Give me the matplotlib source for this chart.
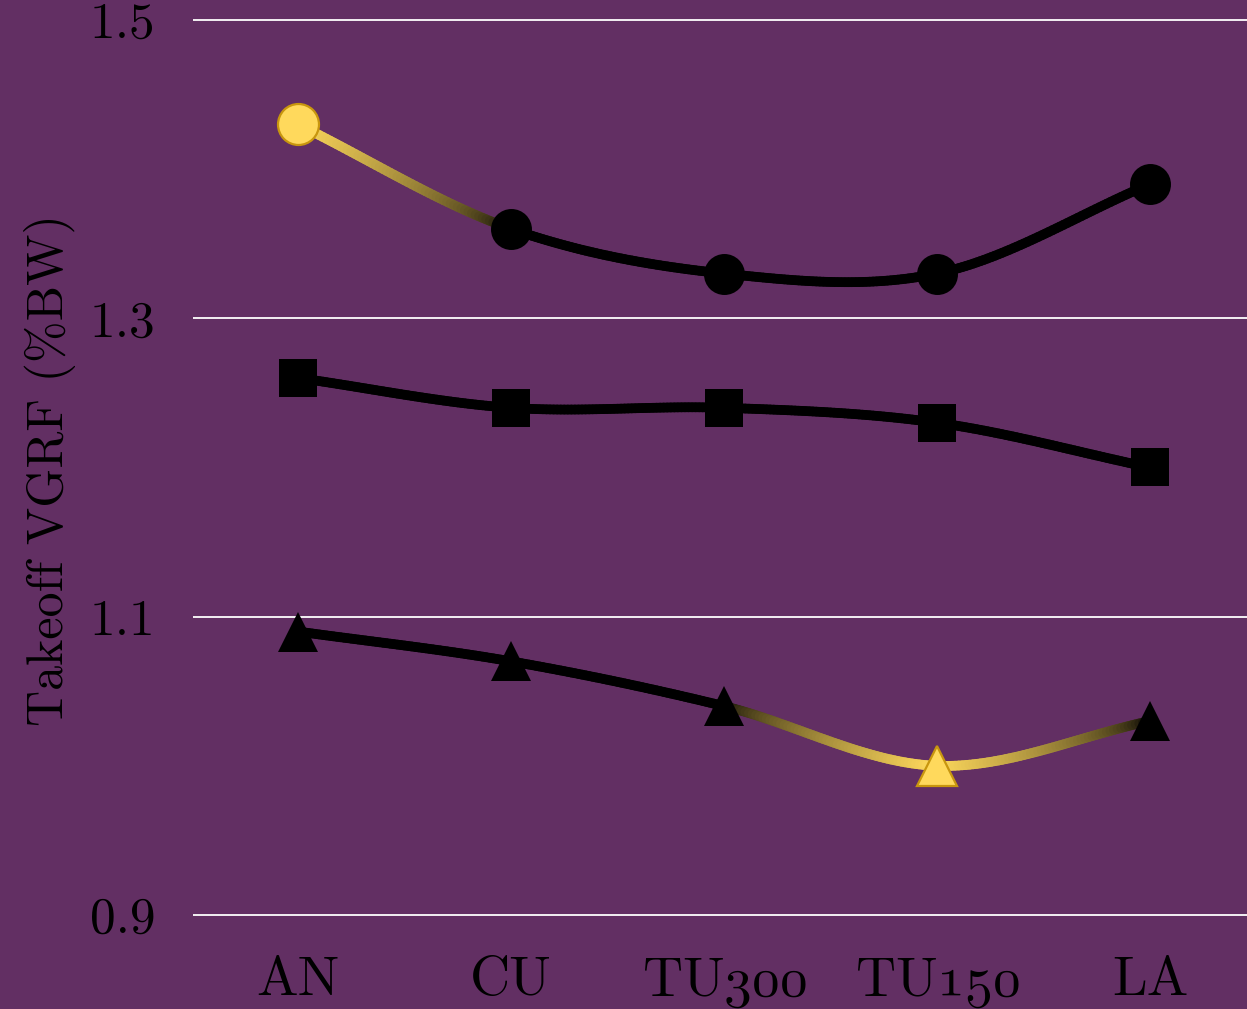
import matplotlib
matplotlib.use("Agg")
import matplotlib.pyplot as plt
import numpy as np
from matplotlib.collections import LineCollection
from matplotlib.colors import to_rgb

CATEGORIES = ["AN", "CU", "TU300", "TU150", "LA"]
# digits set in cmmi10 so they come out as old-style figures
TICK_LABELS = ["AN", "CU", r"TU$\mathbf{300}$", r"TU$\mathbf{150}$", "LA"]
CIRCLE_VALS = [1.43, 1.36, 1.33, 1.33, 1.39]
SQUARE_VALS = [1.26, 1.24, 1.24, 1.23, 1.20]
TRIANGLE_VALS = [1.09, 1.07, 1.04, 1.00, 1.03]
# 1 = highlighted point (yellow), 0 = normal (black)
CIRCLE_HL = [1, 0, 0, 0, 0]
SQUARE_HL = [0, 0, 0, 0, 0]
TRIANGLE_HL = [0, 0, 0, 1, 0]
Y_TICKS = [0.9, 1.1, 1.3, 1.5]
Y_TICK_LABELS = ["0.9", "1.1", "1.3", "1.5"]

BG = "#622f63"
YELLOW = "#ffd95c"
YELLOW_EDGE = "#c8960e"
BLACK = "#000000"

plt.rcParams.update({
    "font.family": "cmr10",
    "mathtext.fontset": "custom",
    "mathtext.rm": "cmr10",
    "mathtext.bf": "cmmi10",
    "axes.formatter.use_mathtext": True,
})


def catmull_rom(y, n=60):
    """Uniform Catmull-Rom curve through the points (i, y[i])."""
    y = np.asarray(y, dtype=float)
    k = len(y)
    m = np.empty(k)
    m[1:-1] = (y[2:] - y[:-2]) / 2
    m[0] = y[1] - y[0]
    m[-1] = y[-1] - y[-2]
    us, vs = [], []
    for i in range(k - 1):
        t = np.linspace(0, 1, n, endpoint=(i == k - 2))
        h00 = 2 * t**3 - 3 * t**2 + 1
        h10 = t**3 - 2 * t**2 + t
        h01 = -2 * t**3 + 3 * t**2
        h11 = t**3 - t**2
        vs.append(h00 * y[i] + h10 * m[i] + h01 * y[i + 1] + h11 * m[i + 1])
        us.append(i + t)
    return np.concatenate(us), np.concatenate(vs)


def draw_series(ax, vals, hl, marker, ms):
    u, v = catmull_rom(vals)
    w = np.interp(u, np.arange(len(vals)), hl) ** 0.6
    c0, c1 = np.array(to_rgb(BLACK)), np.array(to_rgb(YELLOW))
    pts = np.column_stack([u, v]).reshape(-1, 1, 2)
    segs = np.concatenate([pts[:-1], pts[1:]], axis=1)
    wm = (w[:-1] + w[1:]) / 2
    cols = [tuple(c0 + (c1 - c0) * a) for a in wm]
    lc = LineCollection(segs, colors=cols, linewidths=7, capstyle="round",
                        joinstyle="round", zorder=3)
    ax.add_collection(lc)
    for i, (val, h) in enumerate(zip(vals, hl)):
        if h:
            ax.plot(i, val, marker=marker, ms=ms, mfc=YELLOW, mec=YELLOW_EDGE,
                    mew=1.6, ls="none", zorder=4)
        else:
            ax.plot(i, val, marker=marker, ms=ms, mfc=BLACK, mec=BLACK,
                    mew=0, ls="none", zorder=4)


fig = plt.figure(figsize=(12.47, 10.09), dpi=100, facecolor=BG)
ax = fig.add_axes([193 / 1247, 1 - 940 / 1009, 1054 / 1247, 940 / 1009])
ax.set_facecolor(BG)

draw_series(ax, CIRCLE_VALS, CIRCLE_HL, "o", 29.5)
draw_series(ax, SQUARE_VALS, SQUARE_HL, "s", 27)
draw_series(ax, TRIANGLE_VALS, TRIANGLE_HL, "^", 29)

ax.set_xlim(-0.493, 4.455)
ax.set_ylim(0.8832, 1.5134)
ax.set_xticks(range(len(CATEGORIES)))
ax.set_xticklabels(TICK_LABELS, fontsize=40)
ax.set_yticks(Y_TICKS)
ax.set_yticklabels(Y_TICK_LABELS, fontsize=37)
ax.tick_params(axis="both", length=0, colors=BLACK)
ax.tick_params(axis="x", pad=12)
ax.tick_params(axis="y", pad=27)
ax.yaxis.grid(True, color="white", linewidth=1.3)
ax.set_axisbelow(True)
for s in ax.spines.values():
    s.set_visible(False)
ax.set_ylabel("Takeoff VGRF (%BW)", fontsize=36, color=BLACK, labelpad=10)

fig.savefig("out.png", dpi=100, facecolor=BG)
